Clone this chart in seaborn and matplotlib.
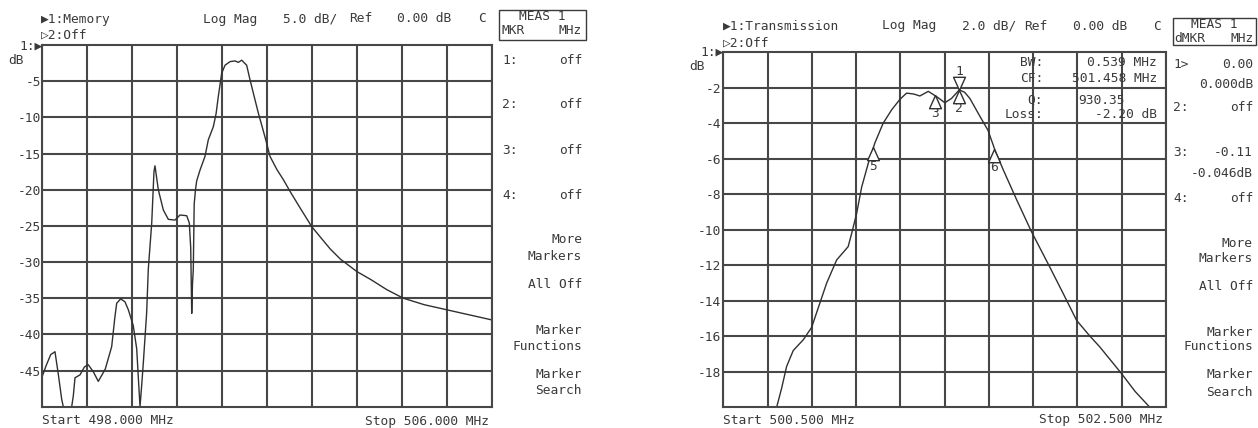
import matplotlib
matplotlib.use("Agg")
import matplotlib.pyplot as plt
import seaborn as sns
import pandas as pd
from matplotlib.patches import Rectangle

# ---------------- data ----------------
left_freq_mhz = [498.000, 498.080, 498.160, 498.236, 498.295, 498.356, 498.384, 498.533,
                 498.562, 498.592, 498.681, 498.760, 498.828, 498.920, 499.006, 499.130,
                 499.244, 499.300, 499.333, 499.404, 499.480, 499.540, 499.628, 499.689,
                 499.718, 499.748, 499.778, 499.806, 499.866, 499.895, 499.956, 499.996,
                 500.014, 500.073, 500.162, 500.251, 500.370, 500.459, 500.578, 500.624,
                 500.649, 500.667, 500.681, 500.695, 500.711, 500.734, 500.755, 500.814,
                 500.903, 500.962, 501.051, 501.100, 501.140, 501.200, 501.259, 501.348,
                 501.436, 501.495, 501.556, 501.644, 501.703, 501.780, 501.851, 501.930,
                 502.000, 502.059, 502.180, 502.295, 502.420, 502.592, 502.800, 502.948,
                 503.130, 503.310, 503.600, 503.867, 504.130, 504.428, 504.800, 505.200,
                 505.600, 506.000]
left_level_db = [-46.0, -44.3, -42.8, -42.4, -45.5, -49.0, -50.0, -50.0,
                 -48.5, -46.0, -45.6, -44.5, -44.2, -45.2, -46.5, -44.8,
                 -41.7, -37.7, -35.7, -35.1, -35.5, -36.6, -38.8, -42.0,
                 -46.0, -50.0, -47.0, -44.0, -37.0, -31.0, -24.6, -17.5,
                 -16.7, -20.0, -22.8, -24.1, -24.2, -23.5, -23.6, -24.6,
                 -28.0, -37.1, -33.0, -31.0, -22.0, -20.0, -18.8, -17.3,
                 -15.4, -13.1, -11.3, -9.5, -7.1, -3.9, -2.8, -2.3,
                 -2.2, -2.4, -2.1, -2.8, -4.8, -7.2, -9.4, -11.6,
                 -13.6, -15.4, -17.2, -18.6, -20.3, -22.5, -25.1, -26.5,
                 -28.2, -29.6, -31.3, -32.5, -33.8, -35.0, -35.9, -36.6,
                 -37.3, -38.0]

right_freq_mhz = [500.500, 500.741, 500.764, 500.786, 500.816, 500.861, 500.899, 500.937,
                  500.967, 501.012, 501.064, 501.080, 501.102, 501.125, 501.155, 501.185,
                  501.222, 501.260, 501.298, 501.328, 501.360, 501.388, 501.426, 501.464,
                  501.501, 501.531, 501.566, 501.590, 501.614, 501.659, 501.696, 501.727,
                  501.764, 501.825, 501.892, 501.975, 502.040, 502.096, 502.150, 502.201,
                  502.299, 502.360, 502.427, 502.500]
right_level_db = [-20.0, -20.0, -18.9, -17.7, -16.8, -16.2, -15.5, -14.1,
                  -13.0, -11.7, -10.95, -10.2, -9.1, -7.6, -6.25, -5.1,
                  -4.0, -3.25, -2.65, -2.3, -2.35, -2.46, -2.2, -2.5,
                  -2.84, -2.6, -2.12, -2.25, -2.6, -3.6, -4.4, -5.5,
                  -6.6, -8.3, -10.1, -12.1, -13.7, -15.1, -15.9, -16.6,
                  -18.1, -19.1, -20.0, -20.0]

marker_names = ["1", "2", "3", "5", "6"]
marker_freq_mhz = [501.566, 501.566, 501.456, 501.177, 501.722]
marker_level_db = [-2.12, -2.12, -2.40, -5.35, -5.45]
marker_pointing = ["down", "up", "up", "up", "up"]

left_yticks = [-5, -10, -15, -20, -25, -30, -35, -40, -45]
right_yticks = [-2, -4, -6, -8, -10, -12, -14, -16, -18]

left_softkeys = [("1:", "off", 60), ("2:", "off", 104), ("3:", "off", 150), ("4:", "off", 196)]
right_softkeys = [("1>", "0.00", 65), ("2:", "off", 108), ("3:", "-0.11", 153), ("4:", "off", 198)]
menu_items = ["More", "Markers", "All Off", "Marker", "Functions", "Marker", "Search"]

# ---------------- style ----------------
W, H = 1258, 428
sns.set_style("white")
FONT = ["DejaVu Sans Mono", "DejaVu Sans"]
plt.rcParams["font.family"] = FONT
plt.rcParams["axes.unicode_minus"] = False
TXT = "#3a3a3a"
GRID = "#474747"
FS = 9.3

fig = plt.figure(figsize=(W / 100, H / 100), dpi=100)
fig.patch.set_facecolor("white")


def fx(px):
    return px / W


def fy(py):
    return 1 - py / H


def ftext(x, y, s, ha="left", **kw):
    fig.text(fx(x), fy(y), s, ha=ha, va="center", fontsize=kw.pop("fontsize", FS),
             color=TXT, family=FONT, **kw)


def make_axes(l, r, t, b):
    return fig.add_axes([fx(l), fy(b), fx(r) - fx(l), fy(t) - fy(b)])


def style_axes(ax, xmin, xmax, step, ymin, yticks, tickpad):
    ax.set_xlim(xmin, xmax)
    ax.set_ylim(ymin, 0)
    nx = int(round((xmax - xmin) / step))
    ax.set_xticks([xmin + i * step for i in range(nx + 1)])
    ax.set_xticklabels([])
    ax.set_yticks(yticks)
    ax.set_yticklabels([str(v) for v in yticks], fontsize=FS, color=TXT, family=FONT)
    ax.tick_params(axis="both", length=0, pad=tickpad)
    ax.grid(True, color=GRID, linewidth=1.5)
    ax.set_axisbelow(True)
    for sp in ax.spines.values():
        sp.set_color(GRID)
        sp.set_linewidth(1.5)
    ax.set_xlabel("")
    ax.set_ylabel("")


# ---------------- left panel ----------------
axL = make_axes(41.7, 491.7, 45.0, 406.7)
dfL = pd.DataFrame({"freq": left_freq_mhz, "level": left_level_db})
sns.lineplot(data=dfL, x="freq", y="level", ax=axL, color="#303030", linewidth=1.0,
             sort=False, estimator=None)
style_axes(axL, 498.0, 506.0, 0.8, -50, left_yticks, 0.6)

ftext(41, 19, "▶1:Memory")
ftext(41, 35, "▷2:Off")
for x, s in [(203, "Log Mag"), (283, "5.0 dB/"), (349, "Ref"), (397, "0.00 dB"), (478, "C")]:
    ftext(x, 19, s)
fig.patches.append(Rectangle((fx(499.3), fy(40)), fx(586) - fx(499.3), fy(10) - fy(40),
                             transform=fig.transFigure, fill=False, edgecolor=TXT, linewidth=1.0))
ftext(542, 17, "MEAS 1", ha="center")
ftext(501, 31, "MKR")
ftext(582, 31, "MHz", ha="right")
for k, v, y in left_softkeys:
    ftext(502, y, k)
    ftext(582, y, v, ha="right")
for s, y in zip(menu_items, [240, 256, 284, 330, 346, 375, 391]):
    ftext(582, y, s, ha="right")
ftext(41.7, 421, "Start 498.000 MHz")
ftext(489, 421, "Stop 506.000 MHz", ha="right")
ftext(43, 46.5, "1:▶", ha="right")
ftext(16, 60, "dB", ha="center")

# ---------------- right panel ----------------
axR = make_axes(723.3, 1166.0, 52.3, 407.3)
dfR = pd.DataFrame({"freq": right_freq_mhz, "level": right_level_db})
sns.lineplot(data=dfR, x="freq", y="level", ax=axR, color="#303030", linewidth=1.0,
             sort=False, estimator=None)
style_axes(axR, 500.5, 502.5, 0.2, -20, right_yticks, 1.6)

up_tri = [(0, 0), (-0.45, -1), (0.45, -1), (0, 0)]
down_tri = [(0, 0), (-0.45, 1), (0.45, 1), (0, 0)]
for name, f, lv, d in zip(marker_names, marker_freq_mhz, marker_level_db, marker_pointing):
    axR.plot([f], [lv], marker=(up_tri if d == "up" else down_tri), markersize=19,
             mfc="white", mec="#303030", mew=1.0, linestyle="none", zorder=5)
    off = -13.5 if d == "up" else 13.5
    axR.annotate(name, (f, lv), xytext=(0, off), textcoords="offset points",
                 ha="center", va="center", fontsize=FS, color=TXT, family=FONT, zorder=6)

ftext(723, 26, "▶1:Transmission")
ftext(723, 43, "▷2:Off")
for x, s in [(882, "Log Mag"), (962, "2.0 dB/"), (1024, "Ref"), (1073, "0.00 dB"), (1153, "C")]:
    ftext(x, 26, s)
fig.patches.append(Rectangle((fx(1172.7), fy(45)), fx(1256) - fx(1172.7), fy(18.3) - fy(45),
                             transform=fig.transFigure, fill=False, edgecolor=TXT, linewidth=1.0))
ftext(1214, 25, "MEAS 1", ha="center")
ftext(1174, 38, "dMKR")
ftext(1254, 38, "MHz", ha="right")
for k, v, y in right_softkeys:
    ftext(1173, y, k)
    ftext(1253, y, v, ha="right")
ftext(1253, 85, "0.000dB", ha="right")
ftext(1253, 173, "-0.046dB", ha="right")
for s, y in zip(menu_items, [243, 258, 287, 332, 347, 375, 392]):
    ftext(1253, y, s, ha="right")
ftext(723, 420, "Start 500.500 MHz")
ftext(1163, 420, "Stop 502.500 MHz", ha="right")
ftext(724, 52.5, "1:▶", ha="right")
ftext(697, 67, "dB", ha="center")

# marker readout table
for lab, val, y in [("BW:", "0.539 MHz", 63), ("CF:", "501.458 MHz", 79), ("Loss:", "-2.20 dB", 115)]:
    ftext(1043, y, lab, ha="right")
    ftext(1157, y, val, ha="right")
ftext(1043, 100, "Q:", ha="right")
ftext(1078, 100, "930.35")

fig.savefig("out.png", dpi=100, facecolor="white")
